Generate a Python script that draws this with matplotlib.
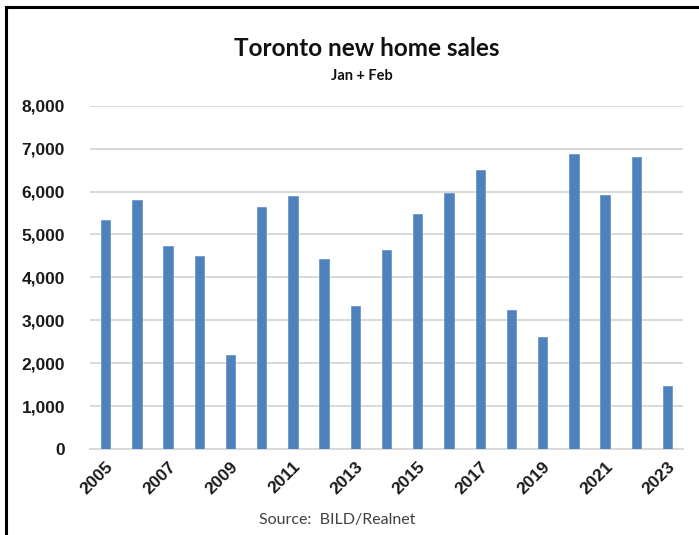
"""
Toronto new home sales, Jan + Feb totals by year (BILD/Realnet).
"""

import matplotlib
matplotlib.use("Agg")
import matplotlib.pyplot as plt
from matplotlib.lines import Line2D
from matplotlib.ticker import FuncFormatter

# ── Data ──────────────────────────────────────────────────────────────────────
years = list(range(2005, 2024))
sales = [5340, 5810, 4740, 4500, 2190, 5650, 5890, 4420, 3340, 4630,
         5470, 5960, 6510, 3250, 2610, 6880, 5910, 6800, 1470]
y_ticks = [0, 1000, 2000, 3000, 4000, 5000, 6000, 7000, 8000]

BAR = "#4f81bd"
GRID = "#d9d9d9"

fig = plt.figure(figsize=(6.99, 5.35), dpi=100)
ax = fig.add_axes([0.1288, 0.1607, 0.8484, 0.6417])

x = range(len(years))
ax.bar(x, sales, width=0.3, color=BAR, edgecolor="#6f97c9", linewidth=0.6,
       zorder=3)

ax.set_xlim(-0.5, len(years) - 0.5)
ax.set_ylim(0, 8000)
ax.set_yticks(y_ticks)
ax.yaxis.set_major_formatter(FuncFormatter(lambda v, _: f"{int(v):,}"))
ax.grid(axis="y", color=GRID, linewidth=1.4, zorder=0)

# every other year labelled
ax.set_xticks(list(x)[::2])
ax.set_xticklabels([str(y) for y in years[::2]], rotation=45, ha="right",
                   rotation_mode="anchor")

for s in ["top", "right", "left"]:
    ax.spines[s].set_visible(False)
ax.spines["bottom"].set_color(GRID)
ax.spines["bottom"].set_linewidth(1.4)
ax.tick_params(axis="both", length=0)
ax.tick_params(axis="y", pad=18)
ax.tick_params(axis="x", pad=7)
for lab in ax.get_yticklabels() + ax.get_xticklabels():
    lab.set_fontfamily("Liberation Sans")
    lab.set_fontweight("bold")
    lab.set_fontsize(12.5)
    lab.set_color("#1a1a1a")

# ── Titles and source ─────────────────────────────────────────────────────────
fig.text(0.524, 0.91, "Toronto new home sales", ha="center", va="center",
         fontfamily="Lato", fontweight="bold", fontsize=17.5, color="#111111")
fig.text(0.518, 0.858, "Jan + Feb", ha="center", va="center",
         fontfamily="Lato", fontweight="bold", fontsize=10.5, color="#111111")
fig.text(0.483, 0.028, "Source:  BILD/Realnet", ha="center", va="center",
         fontfamily="Lato", fontsize=11.5, color="#404040")

# frame edges along the top and left
fig.add_artist(Line2D([0.008, 1.0], [0.987, 0.987], transform=fig.transFigure,
                      color="black", linewidth=2.2))
fig.add_artist(Line2D([0.008, 0.008], [0.0, 0.987], transform=fig.transFigure,
                      color="black", linewidth=2.2))

plt.savefig("out.png", dpi=100)
